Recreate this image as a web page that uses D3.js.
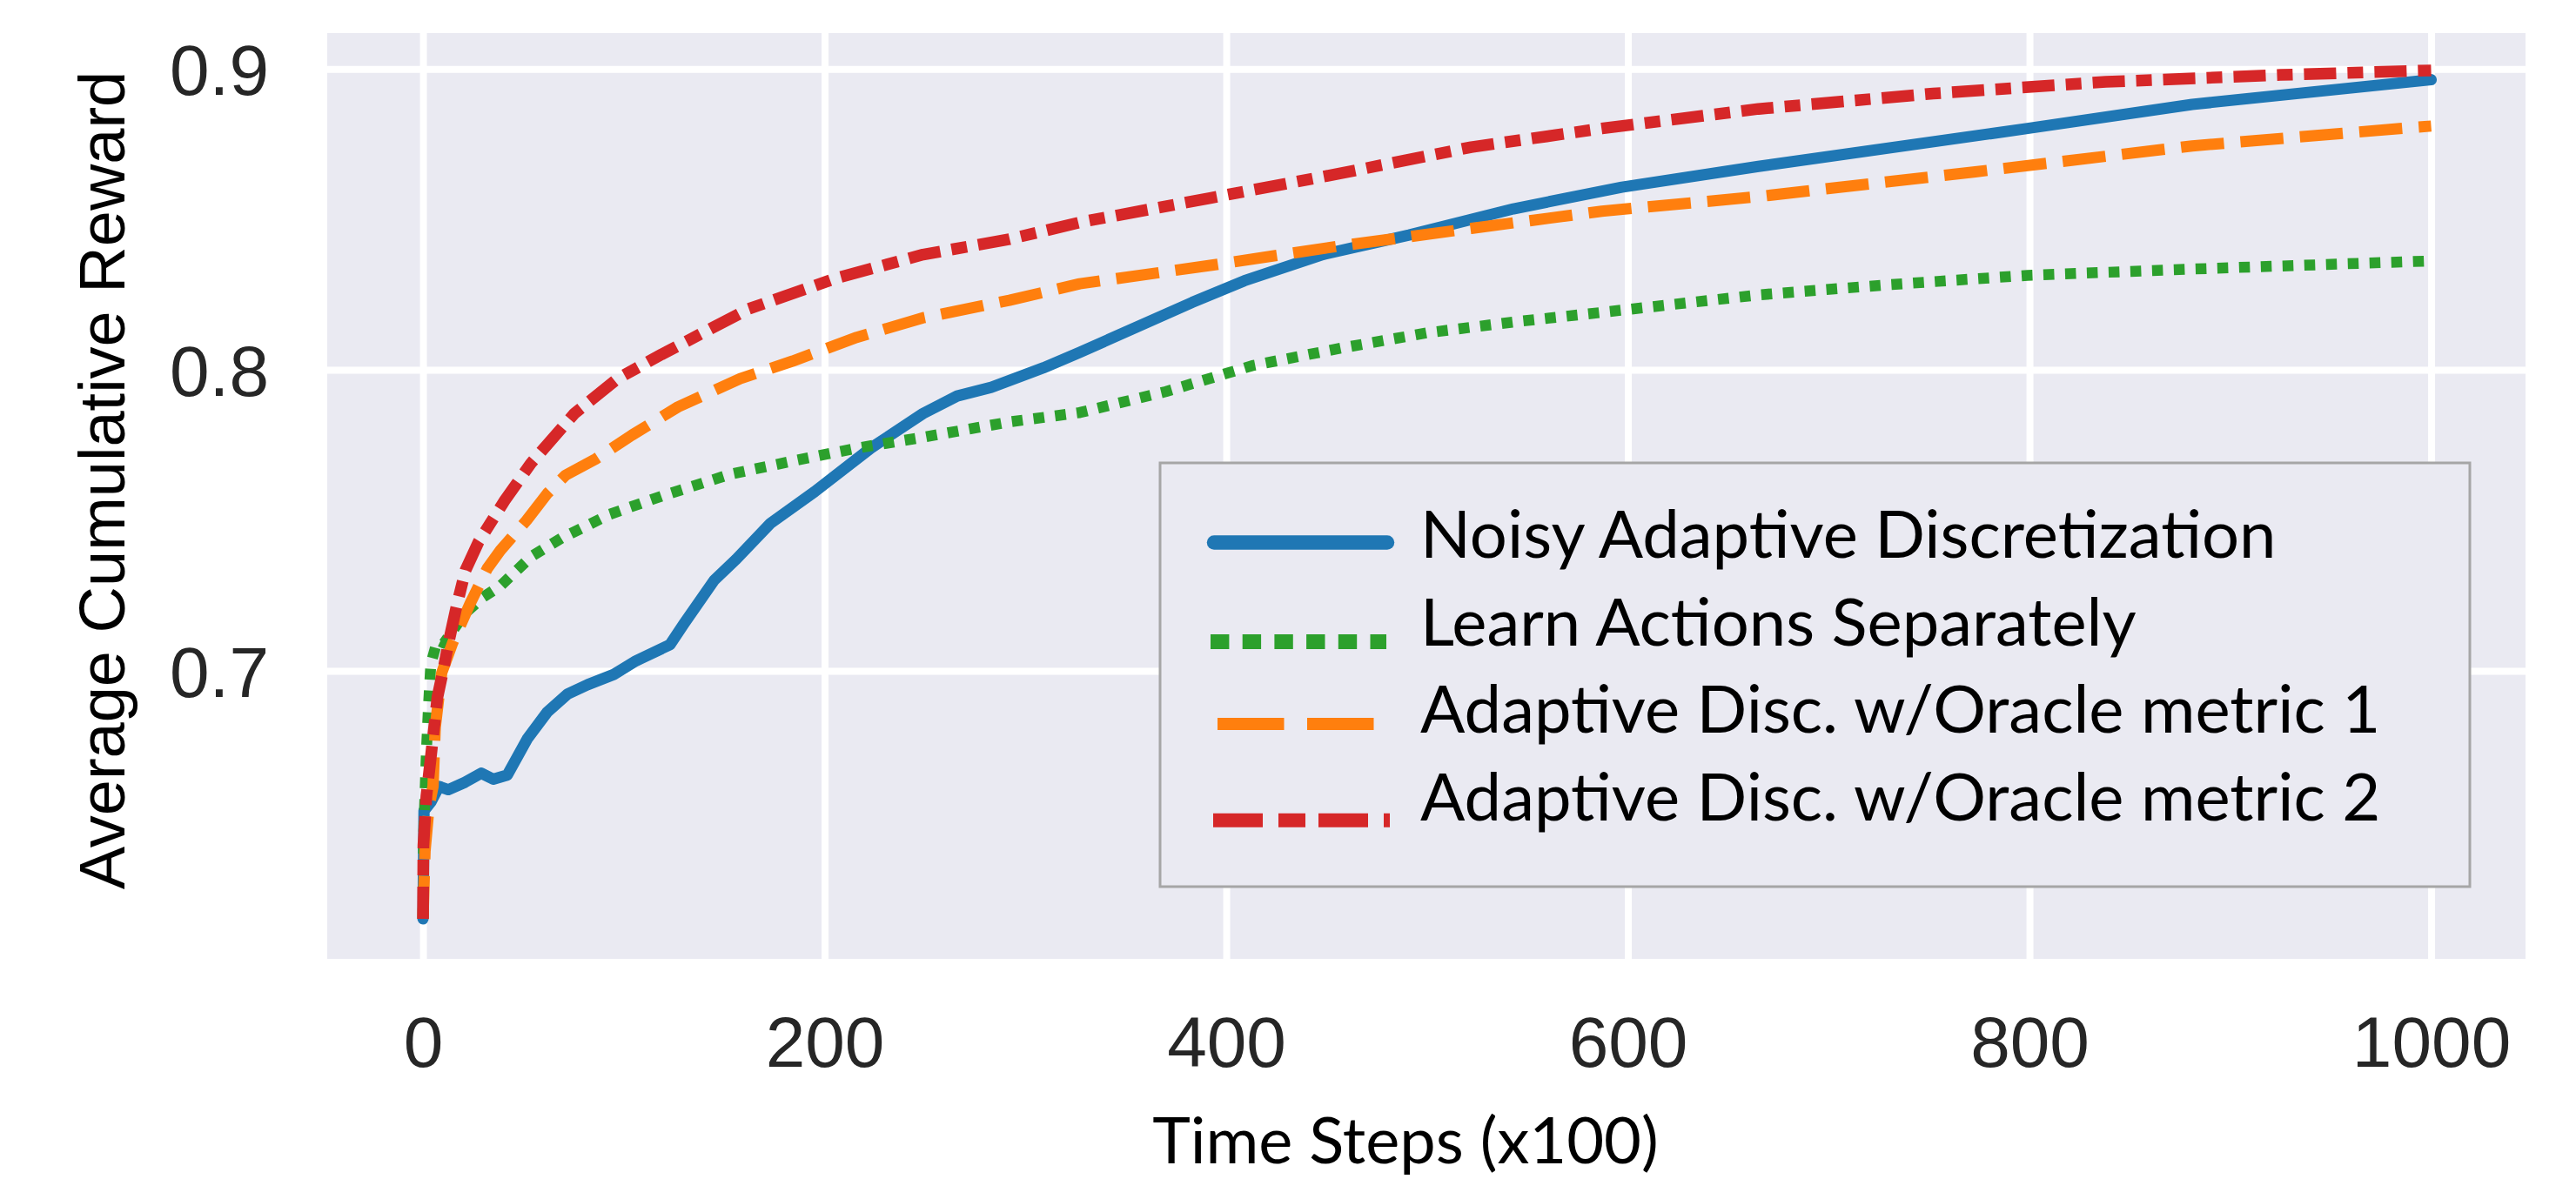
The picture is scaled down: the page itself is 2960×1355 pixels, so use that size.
<!DOCTYPE html>
<html>
<head>
<meta charset="utf-8">
<script src="https://cdn.jsdelivr.net/npm/d3@7/dist/d3.min.js"></script>
<style>
  html, body { margin: 0; background: #fff; }
  svg { display: block; }
</style>
</head>
<body>
<div id="chart"></div>
<script>
"use strict";
// Average cumulative reward vs time steps, four methods (seaborn darkgrid look).

// ---- data ----
const xTicks = [0, 200, 400, 600, 800, 1000];
const yTicks = [0.7, 0.8, 0.9];

const noisySteps  = [0, 0.5, 4, 8, 12.6, 21, 29, 35, 42, 52, 62, 72, 82, 95, 106, 123, 130, 145, 156, 173, 195, 223, 249, 266, 283, 309, 327, 383, 409, 448, 491, 543, 597, 665, 799, 881, 1000];
const noisyReward = [0.6176, 0.6535, 0.6565, 0.6616, 0.6605, 0.663, 0.666, 0.664, 0.6654, 0.6775, 0.6864, 0.6923, 0.6954, 0.6988, 0.7033, 0.7087, 0.7157, 0.7301, 0.7371, 0.749, 0.7595, 0.774, 0.7855, 0.7913, 0.7942, 0.8007, 0.8058, 0.8224, 0.8296, 0.8383, 0.8448, 0.8535, 0.8607, 0.8676, 0.8802, 0.8882, 0.8964];

const sepSteps  = [0, 0.3, 1.7, 2.8, 3.9, 7.2, 10.4, 21, 30, 38.5, 54, 69, 93, 119, 153, 184, 216, 249, 292, 327, 370, 413, 457, 500, 543, 587, 665, 730, 799, 881, 1000];
const sepReward = [0.6176, 0.645, 0.6734, 0.6893, 0.7023, 0.7102, 0.7092, 0.7192, 0.7245, 0.7282, 0.738, 0.7441, 0.752, 0.7581, 0.7653, 0.7697, 0.774, 0.7776, 0.7827, 0.7858, 0.7928, 0.8014, 0.8072, 0.8123, 0.8159, 0.8191, 0.8249, 0.8283, 0.8314, 0.8335, 0.8362];

const oracle1Steps  = [0, 1, 3, 5, 6.1, 9.3, 14.7, 23.4, 32, 38.5, 51.6, 62, 71, 86, 104, 127, 158, 184, 216, 249, 292, 327, 392, 457, 522, 587, 664, 773, 881, 990, 1000];
const oracle1Reward = [0.6176, 0.64, 0.655, 0.6616, 0.6813, 0.6993, 0.7092, 0.7223, 0.734, 0.74, 0.75, 0.759, 0.765, 0.7704, 0.7783, 0.7877, 0.7971, 0.8029, 0.8108, 0.8173, 0.8231, 0.8286, 0.8347, 0.8412, 0.847, 0.8527, 0.8575, 0.8658, 0.8744, 0.8805, 0.881];

const oracle2Steps  = [0, 0.2, 1.7, 3.9, 7.2, 10.4, 12.6, 16.9, 21.2, 27.7, 40.7, 53.7, 75.4, 97, 118.7, 162, 205, 249, 292, 327, 392, 457, 522, 587, 665, 752, 838, 925, 1000];
const oracle2Reward = [0.6176, 0.642, 0.6585, 0.6714, 0.6913, 0.7013, 0.709, 0.722, 0.7335, 0.7429, 0.7566, 0.7689, 0.7855, 0.7971, 0.8051, 0.8202, 0.8303, 0.8383, 0.8434, 0.849, 0.8571, 0.8653, 0.874, 0.8802, 0.8867, 0.8918, 0.8957, 0.898, 0.8995];

const seriesNames = [
  'Noisy Adaptive Discretization',
  'Learn Actions Separately',
  'Adaptive Disc. w/Oracle metric 1',
  'Adaptive Disc. w/Oracle metric 2',
];

// ---- layout ----
const W = 2960, H = 1355;
const plot = { left: 376, right: 2902, top: 38, bottom: 1102 };
const BG = '#EAEAF2';

const styles = [
  { color: '#1f77b4', dash: null,            width: 13, cap: 'round' },
  { color: '#2ca02c', dash: '12.5 12.5',     width: 12.5, cap: 'butt' },
  { color: '#ff7f0e', dash: '49.5 19',       width: 13, cap: 'butt' },
  { color: '#d62728', dash: '37 13 18 13',   width: 13.5, cap: 'butt' },
];
const series = [
  [noisySteps, noisyReward],
  [sepSteps, sepReward],
  [oracle1Steps, oracle1Reward],
  [oracle2Steps, oracle2Reward],
].map(([s, r], i) => ({ name: seriesNames[i], pts: s.map((t, j) => [t, r[j]]), ...styles[i] }));

const svg = d3.select('#chart').append('svg').attr('width', W).attr('height', H);
svg.append('rect').attr('width', W).attr('height', H).attr('fill', '#fff');

const x = d3.scaleLinear().domain([-47.7, 1047]).range([plot.left, plot.right]);
const y = d3.scaleLinear().domain([0.6043, 0.9119]).range([plot.bottom, plot.top]);

svg.append('rect')
  .attr('x', plot.left).attr('y', plot.top)
  .attr('width', plot.right - plot.left).attr('height', plot.bottom - plot.top)
  .attr('fill', BG);

// axes double as the white grid
const tickFont = '"Liberation Sans", Arial, sans-serif';
const xAxis = svg.append('g').attr('transform', `translate(0,${plot.bottom})`)
  .call(d3.axisBottom(x).tickValues(xTicks).tickFormat(d3.format('d'))
    .tickSize(-(plot.bottom - plot.top)).tickPadding(66));
const yAxis = svg.append('g').attr('transform', `translate(${plot.left},0)`)
  .call(d3.axisLeft(y).tickValues(yTicks).tickFormat(d3.format('.1f'))
    .tickSize(-(plot.right - plot.left)).tickPadding(67));
[xAxis, yAxis].forEach((a) => {
  a.select('.domain').remove();
  a.selectAll('.tick line').attr('stroke', '#fff').attr('stroke-width', 8);
  a.selectAll('.tick text').attr('fill', '#262626').style('font-family', tickFont).style('font-size', '82px');
});
yAxis.selectAll('.tick text').attr('dy', '0.36em');

// ---- lines ----
const line = d3.line().x((d) => x(d[0])).y((d) => y(d[1]));
svg.append('g').selectAll('path').data(series).enter().append('path')
  .attr('d', (d) => line(d.pts))
  .attr('fill', 'none')
  .attr('stroke', (d) => d.color)
  .attr('stroke-width', (d) => d.width)
  .attr('stroke-dasharray', (d) => d.dash)
  .attr('stroke-linecap', (d) => d.cap)
  .attr('stroke-linejoin', 'round');

// ---- axis titles ----
svg.append('text')
  .attr('transform', 'translate(143,552) rotate(-90)')
  .attr('text-anchor', 'middle')
  .style('font-family', tickFont).style('font-size', '74px').attr('fill', '#000')
  .text('Average Cumulative Reward');

const titleFont = 'Lato, "Open Sans", sans-serif';
svg.append('text')
  .attr('x', 1615).attr('y', 1337).attr('text-anchor', 'middle')
  .style('font-family', titleFont).style('font-size', '74px').attr('fill', '#000')
  .text('Time Steps (x100)');

// ---- legend (boxed, pasted-on look) ----
const lg = svg.append('g');
lg.append('rect')
  .attr('x', 1333).attr('y', 532).attr('width', 1505).attr('height', 487)
  .attr('fill', BG).attr('stroke', '#a6a6a6').attr('stroke-width', 3);

const legendRows = [
  { lineY: 623.5, textY: 641, x1: 1395, x2: 1594, w: 16.5, dash: null, cap: 'round' },
  { lineY: 737.5, textY: 742, x1: 1391, x2: 1593, w: 17, dash: '21.4 15.3', cap: 'butt' },
  { lineY: 832,   textY: 842, x1: 1399, x2: 1579, w: 14, dash: '76.5 26.5', cap: 'butt' },
  { lineY: 942.7, textY: 943, x1: 1394, x2: 1597, w: 16, dash: '57 18 31 15', cap: 'butt' },
];
legendRows.forEach((r, i) => {
  lg.append('line')
    .attr('x1', r.x1).attr('x2', r.x2).attr('y1', r.lineY).attr('y2', r.lineY)
    .attr('stroke', styles[i].color).attr('stroke-width', r.w)
    .attr('stroke-dasharray', r.dash).attr('stroke-linecap', r.cap);
  lg.append('text')
    .attr('x', 1632).attr('y', r.textY)
    .style('font-family', titleFont).style('font-size', '76px').attr('fill', '#000')
    .text(seriesNames[i]);
});
</script>
</body>
</html>
